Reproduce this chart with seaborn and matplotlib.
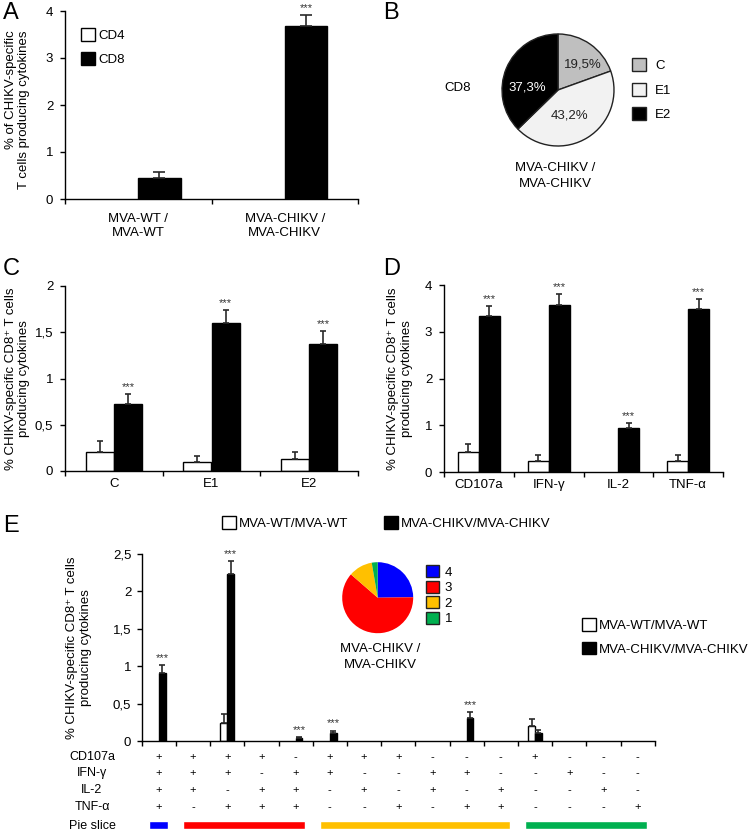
import numpy as np
import pandas as pd
import matplotlib
matplotlib.use('Agg')
import matplotlib.pyplot as plt
from matplotlib.patches import Patch
import seaborn as sns

# ---- data ----
groups = ['MVA-WT/MVA-WT', 'MVA-CHIKV/MVA-CHIKV']

# panel A
a_cats = ['MVA-WT /\nMVA-WT', 'MVA-CHIKV /\nMVA-CHIKV']
a_hue = ['CD4', 'CD8']
a_cd4 = [0.0, 0.0]
a_cd4_err = [0.0, 0.0]
a_cd8 = [0.44, 3.69]
a_cd8_err = [0.14, 0.23]
a_cd8_stars = [False, True]

# panel B
b_labels = ['C', 'E1', 'E2']
b_values = [19.5, 43.2, 37.3]
b_colors = ['#bfbfbf', '#f2f2f2', '#000000']
b_text_colors = ['#222222', '#222222', 'white']

# panel C
c_cats = ['C', 'E1', 'E2']
c_wt = [0.20, 0.10, 0.135]
c_wt_err = [0.12, 0.06, 0.075]
c_chikv = [0.72, 1.595, 1.375]
c_chikv_err = [0.11, 0.145, 0.135]

# panel D
d_cats = ['CD107a', 'IFN-γ', 'IL-2', 'TNF-α']
d_wt = [0.43, 0.235, 0.0, 0.235]
d_wt_err = [0.16, 0.12, 0.0, 0.12]
d_chikv = [3.33, 3.58, 0.94, 3.48]
d_chikv_err = [0.22, 0.22, 0.10, 0.21]

# panel E
e_row_names = ['CD107a', 'IFN-γ', 'IL-2', 'TNF-α']
e_cd107a = list('++++-+++---+---')
e_ifng = list('+++-++--++--+--')
e_il2 = list('++-++-+-+-+--+-')
e_tnfa = list('+-+++--+-++---+')
e_wt = [0, 0, 0.24, 0, 0, 0, 0, 0, 0, 0, 0, 0.20, 0, 0, 0]
e_wt_err = [0, 0, 0.125, 0, 0, 0, 0, 0, 0, 0, 0, 0.09, 0, 0, 0]
e_chikv = [0.91, 0, 2.23, 0, 0.04, 0.11, 0, 0, 0, 0.31, 0, 0.11, 0, 0, 0]
e_chikv_err = [0.10, 0, 0.18, 0, 0.012, 0.03, 0, 0, 0, 0.08, 0, 0.04, 0, 0, 0]
e_stars = [True, False, True, False, True, True, False, False, False, True,
           False, False, False, False, False]
e_yticklabels = ['0', '0,5', '1', '1,5', '2', '2,5']

slice_labels = ['4', '3', '2', '1']
slice_ncols = [1, 4, 6, 4]
slice_colors = ['#0000ff', '#ff0000', '#ffc000', '#00b050']
slice_values = [24.8, 61.6, 10.9, 2.7]

# ---- style ----
sns.set_theme(style='white')
plt.rcParams['font.family'] = ['Liberation Sans', 'DejaVu Sans']
plt.rcParams.update({
    'font.size': 9.5,
    'xtick.labelsize': 9.5,
    'ytick.labelsize': 9.5,
    'axes.labelsize': 9.5,
    'legend.fontsize': 9.5,
    'axes.edgecolor': 'black',
    'axes.linewidth': 1.0,
    'xtick.color': 'black',
    'ytick.color': 'black',
    'xtick.direction': 'out',
    'ytick.direction': 'out',
    'xtick.bottom': True,
    'ytick.left': True,
    'ytick.major.size': 3.5,
    'xtick.major.size': 3.5,
    'xtick.minor.size': 3.5,
    'ytick.major.width': 1.0,
    'xtick.minor.width': 1.0,
    'text.color': 'black',
    'axes.labelcolor': 'black',
})

W, H = 750, 831
fig = plt.figure(figsize=(W / 100, H / 100), dpi=100)


def px_axes(x0, y0, x1, y1):
    return fig.add_axes([x0 / W, 1 - y1 / H, (x1 - x0) / W, (y1 - y0) / H])


def grouped_bars(ax, cats, v1, e1, v2, e2, stars, hue_names, width, capsize):
    df = pd.DataFrame({
        'cat': list(cats) * 2,
        'val': list(v1) + list(v2),
        'grp': [hue_names[0]] * len(cats) + [hue_names[1]] * len(cats),
    })
    sns.barplot(data=df, x='cat', y='val', hue='grp', hue_order=hue_names,
                palette=['white', 'black'], edgecolor='black', linewidth=1,
                width=width, errorbar=None, ax=ax, legend=True)
    leg = ax.get_legend()
    handles = list(leg.legend_handles)
    labels = [t.get_text() for t in leg.get_texts()]
    leg.remove()
    for cont, errs, st in zip(ax.containers, [e1, e2], [None, stars]):
        for i, (bar, e) in enumerate(zip(cont, errs)):
            x = bar.get_x() + bar.get_width() / 2
            y = bar.get_height()
            if y == 0:
                bar.set_visible(False)
            if e > 0:
                ax.errorbar(x, y, yerr=[[0], [e]], fmt='none', ecolor='#2a2a2a',
                            elinewidth=1.2, capsize=capsize, capthick=1.2)
            if st is not None and st[i]:
                ax.annotate('***', (x, y + e), xytext=(0, 1.5),
                            textcoords='offset points', ha='center',
                            va='bottom', fontsize=8, color='#333333')
    n = len(cats)
    ax.set_xlim(-0.5, n - 0.5)
    ax.set_xticks(np.arange(-0.5, n, 1), minor=True)
    ax.tick_params(axis='x', which='major', length=0)
    ax.tick_params(axis='x', which='minor', length=3.5, width=1)
    ax.set_xlabel('')
    sns.despine(ax=ax)
    return handles, labels


def panel_label(x, y, s):
    fig.text(x / W, 1 - y / H, s, fontsize=17, ha='left', va='top')


# ---- A ----
axA = px_axes(65, 11, 358, 199)
hA, lA = grouped_bars(axA, a_cats, a_cd4, a_cd4_err, a_cd8, a_cd8_err,
                      a_cd8_stars, a_hue, 0.58, 4)
axA.set_ylim(0, 4)
axA.set_yticks([0, 1, 2, 3, 4])
axA.tick_params(axis='x', which='major', pad=10)
axA.tick_params(axis='y', pad=5)
axA.set_ylabel('% of CHIKV-specific\nT cells producing cytokines',
               multialignment='right')
axA.yaxis.set_label_coords(-0.118, 0.476)
axA.legend(hA, lA, loc='upper left', bbox_to_anchor=(81 / W, 1 - 28 / H),
           bbox_transform=fig.transFigure, frameon=False,
           borderpad=0, borderaxespad=0, handlelength=1.05, handleheight=1.15,
           handletextpad=0.3, labelspacing=0.75)
panel_label(3, 2, 'A')

# ---- B ----
r = 56
axB = px_axes(558 - 1.05 * r, 90 - 1.05 * r, 558 + 1.05 * r, 90 + 1.05 * r)
wedges, _, autotexts = axB.pie(
    b_values, colors=b_colors, startangle=90, counterclock=False,
    autopct=lambda p: f'{p:.1f}%'.replace('.', ','), pctdistance=0.6,
    wedgeprops=dict(edgecolor='#222222', linewidth=1),
    textprops=dict(fontsize=9.5))
label_pos = [(0.44, 0.45), (0.2, -0.45), (-0.54, 0.05)]
for t, c, p in zip(autotexts, b_text_colors, label_pos):
    t.set_color(c)
    t.set_position(p)
axB.set_xlim(-1.05, 1.05)
axB.set_ylim(-1.05, 1.05)
axB.set_aspect('equal')
axB.axis('off')
fig.text(458 / W, 1 - 88 / H, 'CD8', ha='center', va='center')
fig.text(555 / W, 1 - 176 / H, 'MVA-CHIKV /\nMVA-CHIKV', ha='center',
         va='center', linespacing=1.4)
fig.legend(wedges, b_labels, loc='upper left', bbox_to_anchor=(632 / W, 1 - 58 / H),
           frameon=False, borderpad=0, borderaxespad=0,
           handlelength=1.05, handleheight=1.15, handletextpad=0.7,
           labelspacing=0.8)
panel_label(383, 2, 'B')

# ---- C ----
axC = px_axes(65, 286, 358, 471)
grouped_bars(axC, c_cats, c_wt, c_wt_err, c_chikv, c_chikv_err,
             [True] * 3, groups, 0.58, 2.5)
axC.set_ylim(0, 2)
axC.set_yticks([0, 0.5, 1, 1.5, 2])
axC.set_yticklabels(['0', '0,5', '1', '1,5', '2'])
axC.tick_params(axis='x', which='major', pad=5)
axC.tick_params(axis='y', pad=5)
axC.set_ylabel('% CHIKV-specific CD8⁺ T cells\nproducing cytokines')
axC.yaxis.set_label_coords(-0.118, 0.5)
panel_label(3, 258, 'C')

# ---- D ----
axD = px_axes(444, 285, 723, 472)
grouped_bars(axD, d_cats, d_wt, d_wt_err, d_chikv, d_chikv_err,
             [True] * 4, groups, 0.6, 2.5)
axD.set_ylim(0, 4)
axD.set_yticks([0, 1, 2, 3, 4])
axD.tick_params(axis='x', which='major', pad=5)
axD.tick_params(axis='y', pad=5)
axD.set_ylabel('% CHIKV-specific CD8⁺ T cells\nproducing cytokines')
axD.yaxis.set_label_coords(-0.111, 0.5)
panel_label(383, 258, 'D')

# ---- E ----
e_cats = [a + b + c + d for a, b, c, d in zip(e_cd107a, e_ifng, e_il2, e_tnfa)]
axE = px_axes(141.7, 554, 654.7, 741)
hE, lE = grouped_bars(axE, e_cats, e_wt, e_wt_err, e_chikv, e_chikv_err,
                      e_stars, groups, 0.4, 2)
axE.set_ylim(0, 2.5)
axE.set_yticks([0, 0.5, 1, 1.5, 2, 2.5])
axE.set_yticklabels(e_yticklabels)
axE.set_xticklabels([])
axE.tick_params(axis='y', pad=4)
axE.set_ylabel('% CHIKV-specific CD8⁺ T cells\nproducing cytokines')
axE.yaxis.set_label_coords(-0.097, 0.5)

# +/- table under panel E
row_y = [757, 773, 790, 807]
for name, row, y in zip(e_row_names, [e_cd107a, e_ifng, e_il2, e_tnfa], row_y):
    fig.text(92 / W, 1 - y / H, name, ha='center', va='center', fontsize=9)
    for i, s in enumerate(row):
        axE.text(i, (741 - y) / 187, s, transform=axE.get_xaxis_transform(),
                 ha='center', va='center', fontsize=8, clip_on=False)
fig.text(92 / W, 1 - 826 / H, 'Pie slice', ha='center', va='center', fontsize=9)

axS = px_axes(141.7, 821, 654.7, 829)
starts = np.concatenate([[0], np.cumsum(slice_ncols)[:-1]]) - 0.5
pad = 0.22
axS.barh(0.5, np.array(slice_ncols) - 2 * pad, left=starts + pad, height=1,
         color=slice_colors)
axS.set_xlim(-0.5, len(e_cats) - 0.5)
axS.set_ylim(0, 1)
axS.axis('off')

# legends of panel E
fig.legend(hE, lE, loc='center left', bbox_to_anchor=(222 / W, 1 - 523 / H),
           ncol=2, frameon=False, borderpad=0, borderaxespad=0,
           handlelength=1.05, handleheight=1.1, handletextpad=0.25,
           columnspacing=2.7)
fig.legend(hE, lE, loc='upper left', bbox_to_anchor=(582 / W, 1 - 618 / H),
           frameon=False, borderpad=0, borderaxespad=0,
           handlelength=1.05, handleheight=1.1, handletextpad=0.25,
           labelspacing=0.75)

# inset pie of panel E
r2 = 35.5
axP = px_axes(377.7 - 1.03 * r2, 597.7 - 1.03 * r2, 377.7 + 1.03 * r2, 597.7 + 1.03 * r2)
axP.pie(slice_values, colors=slice_colors, startangle=90,
        counterclock=False, wedgeprops=dict(linewidth=0))
axP.set_xlim(-1.03, 1.03)
axP.set_ylim(-1.03, 1.03)
axP.set_aspect('equal')
axP.axis('off')
pie_handles = [Patch(facecolor=c, edgecolor='#222222', linewidth=1) for c in slice_colors]
fig.legend(pie_handles, slice_labels, loc='upper left',
           bbox_to_anchor=(426 / W, 1 - 565 / H), frameon=False,
           borderpad=0, borderaxespad=0, handlelength=1.0, handleheight=1.05,
           handletextpad=0.4, labelspacing=0.15)
fig.text(380 / W, 1 - 657 / H, 'MVA-CHIKV /\nMVA-CHIKV', ha='center',
         va='center', linespacing=1.4)
panel_label(3, 515, 'E')

fig.savefig('out.png', dpi=100)
